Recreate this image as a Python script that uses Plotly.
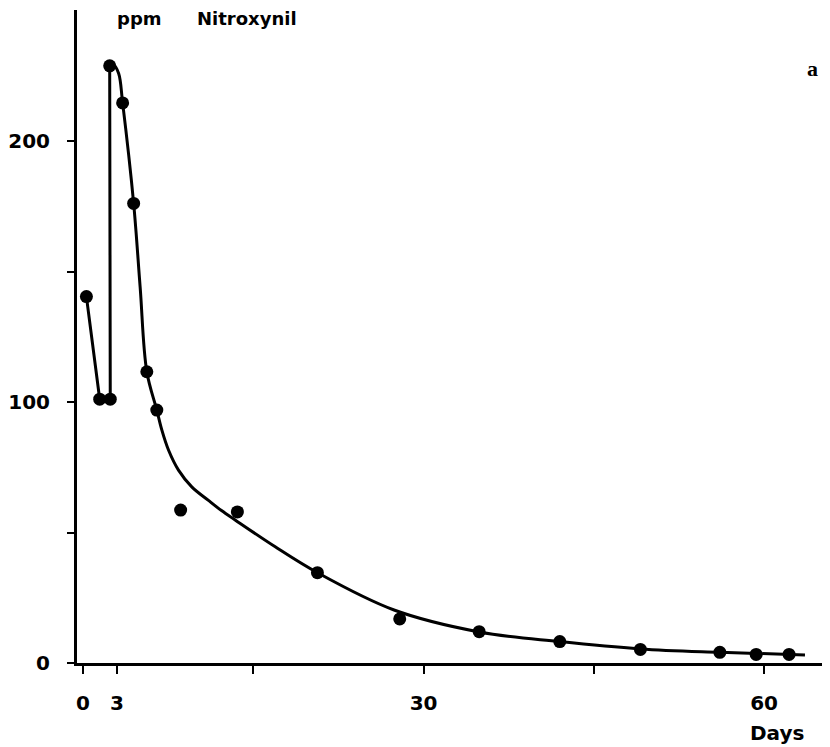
import plotly.graph_objects as go

# Measured points (days, ppm)
obs_days = [0.3, 1.47, 2.4, 2.35, 3.49, 4.46, 5.62, 6.5, 8.6, 13.6, 20.65, 27.9, 34.9, 42.0, 49.1, 56.1, 59.3, 62.2]
obs_ppm = [140.4, 101.1, 101.1, 228.8, 214.6, 176.1, 111.6, 96.9, 58.6, 57.9, 34.6, 16.9, 12.0, 8.2, 5.2, 4.1, 3.3, 3.3]

# Connecting lines for first days (straight segments)
early_days = [0.3, 1.47, 2.4, 2.35]
early_ppm = [140.4, 101.1, 101.1, 228.8]

# Fitted decay curve (smooth)
curve_days = [2.35, 2.7, 3.14, 3.49, 4.46, 5.03, 5.62, 6.5, 6.94, 7.53, 8.41, 9.58, 11.05, 12.2, 13.4,
              16.9, 20.65, 27.4, 34.9, 42.0, 49.1, 56.1, 63.6]
curve_ppm = [228.8, 229.1, 225.9, 214.6, 176.1, 144.2, 111.6, 96.9, 89.3, 81.6, 73.9, 67.5, 62.3, 58.4, 54.8,
             44.6, 34.6, 20.3, 11.9, 8.2, 5.4, 4.1, 3.1]

x_tick_vals = [0, 3, 15, 30, 45, 60]
x_tick_text = ["0", "3", "", "30", "", "60"]
y_tick_vals = [0, 50, 100, 150, 200]
y_tick_text = ["0", "", "100", "", "200"]

FONT = "DejaVu Sans"

fig = go.Figure()
fig.add_trace(go.Scatter(x=early_days, y=early_ppm, mode="lines",
                         line=dict(color="black", width=3), hoverinfo="skip"))
fig.add_trace(go.Scatter(x=curve_days, y=curve_ppm, mode="lines",
                         line=dict(color="black", width=3, shape="spline", smoothing=1.0),
                         hoverinfo="skip"))
fig.add_trace(go.Scatter(x=obs_days, y=obs_ppm, mode="markers",
                         marker=dict(color="black", size=13)))

fig.update_layout(
    width=830, height=747,
    margin=dict(l=75, r=8, t=10, b=84),
    plot_bgcolor="white", paper_bgcolor="white",
    showlegend=False,
    font=dict(family=FONT, color="black", size=18),
)
fig.update_xaxes(
    range=[-0.53, 65.1], showgrid=False, zeroline=False,
    showline=True, linecolor="black", linewidth=2.5,
    ticks="outside", ticklen=8, tickwidth=2, tickcolor="black",
    tickvals=x_tick_vals, ticktext=x_tick_text,
    tickfont=dict(family=FONT, size=20, weight="bold"),
    ticklabelstandoff=12,
)
fig.update_yaxes(
    range=[0, 250.2], showgrid=False, zeroline=False,
    showline=True, linecolor="black", linewidth=3,
    ticks="outside", ticklen=7, tickwidth=2, tickcolor="black",
    tickvals=y_tick_vals, ticktext=y_tick_text,
    tickfont=dict(family=FONT, size=20, weight="bold"),
    ticklabelstandoff=13,
)
fig.add_annotation(text="ppm", xref="paper", yref="paper",
                   x=(113 - 75) / 747, y=(663 - 19) / 653, xanchor="left", yanchor="middle",
                   showarrow=False,
                   font=dict(family=FONT, size=18, weight="bold"))
fig.add_annotation(text="Nitroxynil", xref="paper", yref="paper",
                   x=(193 - 75) / 747, y=(663 - 19) / 653, xanchor="left", yanchor="middle",
                   showarrow=False,
                   font=dict(family=FONT, size=18, weight="bold"))
fig.add_annotation(text="Days", xref="paper", yref="paper",
                   x=(806 - 75) / 747, y=(663 - 733) / 653, xanchor="right", yanchor="middle",
                   showarrow=False,
                   font=dict(family=FONT, size=20, weight="bold"))
fig.add_annotation(text="a", xref="paper", yref="paper",
                   x=(812 - 75) / 747, y=(663 - 68) / 653, xanchor="center", yanchor="middle",
                   showarrow=False,
                   font=dict(family="Liberation Serif", size=22, weight="bold"))

fig.write_html("out.html")
